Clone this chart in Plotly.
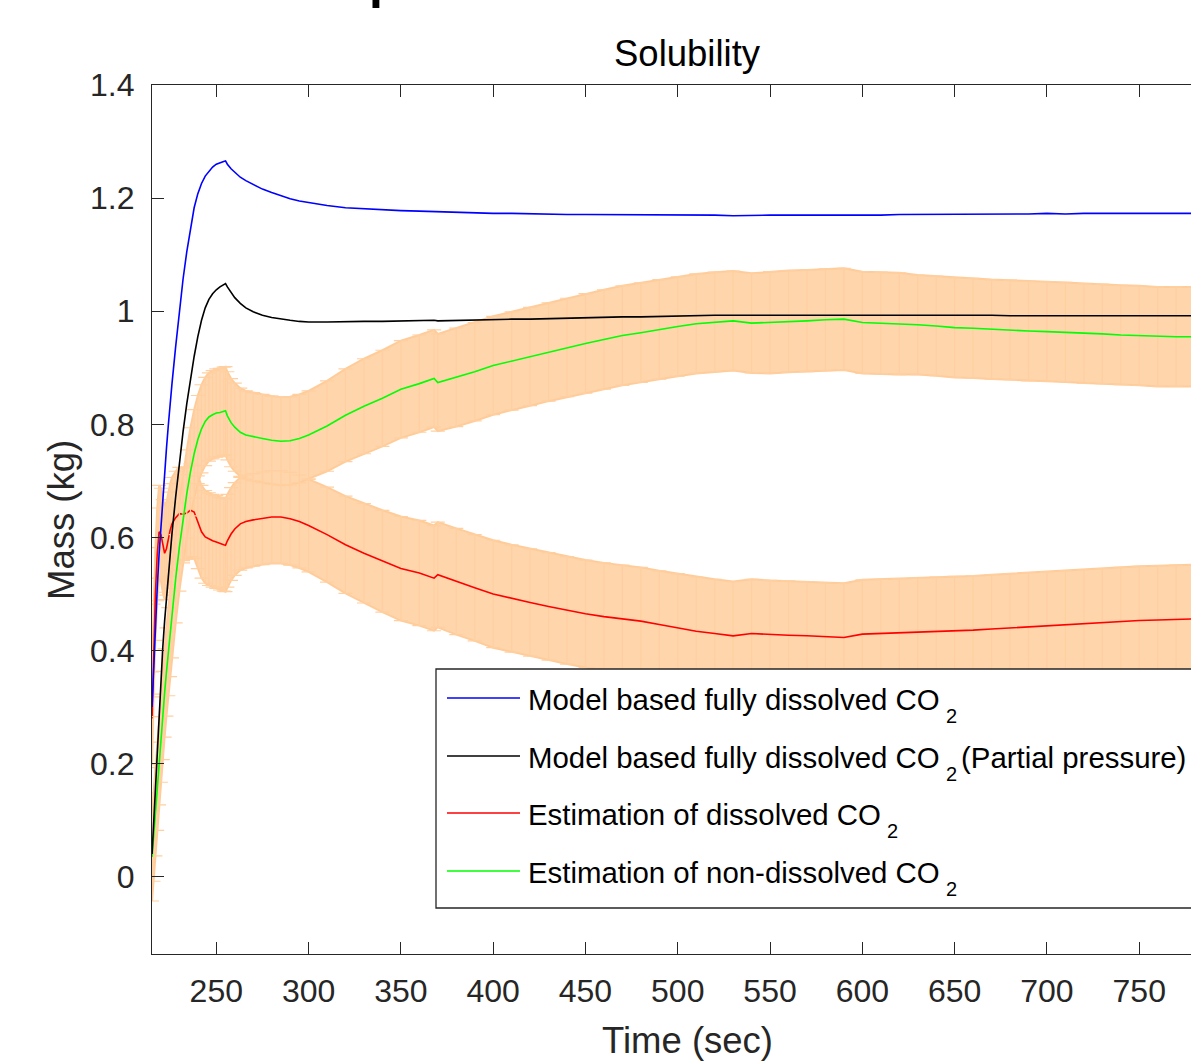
import plotly.graph_objects as go

# ---------------- data ----------------
time_s = [215.2, 216, 217, 218, 219, 220, 221, 222, 223, 224, 225, 226, 228, 230, 232, 234,
          236, 238, 240, 242, 244, 246, 248, 250, 252, 254, 255, 256, 258, 260, 263, 266,
          270, 275, 280, 285, 290, 295, 300, 310, 320, 330, 340, 350, 360, 368, 370,
          380, 390, 400, 410, 420, 430, 440, 450, 460, 470, 480, 490, 500, 510, 520, 530,
          540, 550, 560, 570, 580, 590, 600, 610, 620, 630, 640, 650, 660, 670, 680, 690,
          700, 710, 720, 730, 740, 750, 760, 770, 780]

model_full = [0.30, 0.37, 0.445, 0.51, 0.57, 0.62, 0.665, 0.712, 0.757, 0.798, 0.837, 0.872, 0.938, 0.998, 1.057, 1.105,
              1.148, 1.183, 1.208, 1.226, 1.239, 1.248, 1.255, 1.26, 1.263, 1.265, 1.266, 1.26, 1.252, 1.246, 1.237, 1.231,
              1.224, 1.216, 1.21, 1.204, 1.199, 1.195, 1.192, 1.187, 1.183, 1.181, 1.179, 1.178, 1.177, 1.176, 1.176,
              1.175, 1.174, 1.173, 1.173, 1.172, 1.172, 1.171, 1.171, 1.171, 1.171, 1.170, 1.170, 1.170, 1.170, 1.170, 1.169,
              1.170, 1.170, 1.170, 1.170, 1.170, 1.169, 1.170, 1.170, 1.171, 1.171, 1.171, 1.171, 1.172, 1.172, 1.172, 1.172,
              1.173, 1.172, 1.173, 1.173, 1.173, 1.173, 1.173, 1.173, 1.173]

model_partial = [0.04, 0.09, 0.16, 0.24, 0.30, 0.355, 0.405, 0.452, 0.495, 0.535, 0.572, 0.607, 0.672, 0.732, 0.787, 0.836,
                 0.881, 0.92, 0.955, 0.984, 1.006, 1.021, 1.031, 1.038, 1.043, 1.047, 1.049, 1.043, 1.033, 1.024, 1.014, 1.006,
                 0.999, 0.993, 0.989, 0.986, 0.984, 0.982, 0.981, 0.981, 0.982, 0.982, 0.982, 0.983, 0.983, 0.984, 0.983,
                 0.984, 0.985, 0.985, 0.986, 0.986, 0.987, 0.988, 0.988, 0.989, 0.99, 0.99, 0.991, 0.992, 0.992, 0.993, 0.993,
                 0.993, 0.994, 0.994, 0.994, 0.994, 0.994, 0.994, 0.994, 0.993, 0.993, 0.993, 0.993, 0.993, 0.993, 0.992, 0.992,
                 0.992, 0.992, 0.992, 0.992, 0.992, 0.992, 0.992, 0.992, 0.992]

est_dissolved = [0.28, 0.40, 0.50, 0.57, 0.61, 0.605, 0.585, 0.572, 0.58, 0.598, 0.613, 0.624, 0.635, 0.642, 0.641, 0.643,
                 0.648, 0.645, 0.627, 0.61, 0.601, 0.597, 0.594, 0.592, 0.589, 0.587, 0.586, 0.594, 0.606, 0.615, 0.624, 0.628,
                 0.631, 0.634, 0.636, 0.636, 0.633, 0.628, 0.621, 0.605, 0.587, 0.572, 0.558, 0.545, 0.537, 0.528, 0.534,
                 0.522, 0.511, 0.5, 0.492, 0.485, 0.478, 0.471, 0.465, 0.46, 0.456, 0.452, 0.446, 0.44, 0.434, 0.43, 0.426,
                 0.43, 0.428, 0.427, 0.426, 0.424, 0.423, 0.429, 0.43, 0.431, 0.432, 0.434, 0.435, 0.436, 0.438, 0.44, 0.442,
                 0.443, 0.445, 0.447, 0.449, 0.451, 0.453, 0.454, 0.455, 0.456]

est_dissolved_err = [0.082, 0.082, 0.082, 0.082, 0.082, 0.082, 0.082, 0.082, 0.082, 0.082, 0.082, 0.082, 0.082, 0.082, 0.082, 0.082,
                     0.082, 0.082, 0.082, 0.082, 0.082, 0.082, 0.082, 0.082, 0.082, 0.082, 0.082, 0.082, 0.082, 0.082, 0.082, 0.082,
                     0.082, 0.082, 0.082, 0.082, 0.082, 0.082, 0.082, 0.084, 0.086, 0.088, 0.09, 0.092, 0.093, 0.093, 0.093,
                     0.094, 0.094, 0.095, 0.095, 0.095, 0.095, 0.095, 0.095, 0.095, 0.095, 0.095, 0.095, 0.096, 0.096, 0.096, 0.096,
                     0.096, 0.096, 0.096, 0.096, 0.096, 0.096, 0.096, 0.096, 0.096, 0.096, 0.096, 0.096, 0.096, 0.096, 0.096, 0.096,
                     0.096, 0.096, 0.096, 0.096, 0.096, 0.096, 0.096, 0.096, 0.096]

est_nondissolved = [0.035, 0.07, 0.115, 0.16, 0.205, 0.245, 0.285, 0.325, 0.362, 0.398, 0.432, 0.465, 0.527, 0.583, 0.633, 0.677,
                    0.716, 0.748, 0.773, 0.792, 0.805, 0.813, 0.817, 0.82, 0.821, 0.823, 0.824, 0.815, 0.803, 0.795, 0.786, 0.781,
                    0.778, 0.775, 0.772, 0.77, 0.771, 0.775, 0.781, 0.797, 0.816, 0.832, 0.846, 0.862, 0.872, 0.881, 0.874,
                    0.883, 0.893, 0.904, 0.912, 0.92, 0.928, 0.936, 0.943, 0.95, 0.957, 0.962, 0.968, 0.973, 0.978, 0.981, 0.983,
                    0.979, 0.98, 0.982, 0.983, 0.985, 0.986, 0.98, 0.979, 0.978, 0.976, 0.974, 0.971, 0.97, 0.968, 0.967, 0.965,
                    0.964, 0.963, 0.961, 0.96, 0.958, 0.957, 0.955, 0.955, 0.955]

est_nondissolved_err = [0.078, 0.078, 0.078, 0.078, 0.078, 0.078, 0.078, 0.078, 0.078, 0.078, 0.078, 0.078, 0.078, 0.078, 0.078, 0.078,
                        0.078, 0.078, 0.078, 0.078, 0.078, 0.078, 0.078, 0.078, 0.078, 0.078, 0.078, 0.078, 0.078, 0.078, 0.078, 0.078,
                        0.078, 0.078, 0.078, 0.078, 0.078, 0.078, 0.078, 0.08, 0.082, 0.084, 0.085, 0.086, 0.086, 0.086, 0.086,
                        0.087, 0.087, 0.087, 0.087, 0.087, 0.087, 0.087, 0.088, 0.088, 0.088, 0.088, 0.088, 0.088, 0.088, 0.088, 0.088,
                        0.088, 0.09, 0.09, 0.09, 0.09, 0.09, 0.09, 0.09, 0.09, 0.088, 0.088, 0.088, 0.088, 0.088, 0.088, 0.088,
                        0.088, 0.088, 0.088, 0.088, 0.088, 0.088, 0.088, 0.088, 0.088]

legend_main = ["Model based fully dissolved CO",
               "Model based fully dissolved CO",
               "Estimation of dissolved CO",
               "Estimation of non-dissolved CO"]
legend_sub = ["2", "2", "2", "2"]
legend_tail = ["", "(Partial pressure)", "", ""]
line_colors = ["#0000FF", "#000000", "#FF0000", "#00FF00"]

x_tick_vals = [250, 300, 350, 400, 450, 500, 550, 600, 650, 700, 750]
y_tick_vals = [0, 0.2, 0.4, 0.6, 0.8, 1.0, 1.2, 1.4]
y_tick_text = ["0", "0.2", "0.4", "0.6", "0.8", "1", "1.2", "1.4"]

title_text = "Solubility"
x_label = "Time (sec)"
y_label = "Mass (kg)"
cut_title_fragment = "l"

# ---------------- figure ----------------
FONT = "Liberation Sans, Arial, Helvetica, sans-serif"
AXC = "#262626"
ERR_EDGE = "rgb(255,204,153)"
ERR_BAR = "rgb(255,207,160)"
ERR_FILL = "rgb(255,213,172)"
LEG_SIZE = 29.4

W, H = 1191, 1061
L, R, T, B = 152, 0, 85, 107
PW, PH = W - L - R, H - T - B


def px_x(px):
    return (px - L) / PW


def px_y(py):
    return (H - B - py) / PH


fig = go.Figure()

# error bands (value +/- error)
for vals, errs in [(est_dissolved, est_dissolved_err), (est_nondissolved, est_nondissolved_err)]:
    upper = [v + e for v, e in zip(vals, errs)]
    lower = [v - e for v, e in zip(vals, errs)]
    fig.add_trace(go.Scatter(
        x=time_s + time_s[::-1], y=upper + lower[::-1],
        mode="lines", fill="toself", fillcolor=ERR_FILL,
        line=dict(color=ERR_EDGE, width=2), hoverinfo="skip", showlegend=False))

# estimation series with error bars
for vals, errs, col, name in [(est_dissolved, est_dissolved_err, line_colors[2], legend_main[2]),
                              (est_nondissolved, est_nondissolved_err, line_colors[3], legend_main[3])]:
    fig.add_trace(go.Scatter(
        x=time_s, y=vals, mode="lines", name=name + legend_sub[0],
        line=dict(color=col, width=1.6),
        error_y=dict(type="data", array=errs, symmetric=True, color=ERR_BAR,
                     thickness=1.2, width=7),
        showlegend=False))

# model lines
for vals, col, name in [(model_full, line_colors[0], legend_main[0]),
                        (model_partial, line_colors[1], legend_main[1])]:
    fig.add_trace(go.Scatter(x=time_s, y=vals, mode="lines", name=name + legend_sub[0],
                             line=dict(color=col, width=1.6), showlegend=False))

shapes = []
annotations = []

# legend box (its right side runs past the picture edge, as in the reference)
shapes.append(dict(type="rect", xref="paper", yref="paper",
                   x0=px_x(436), x1=1.05, y0=px_y(908), y1=px_y(669),
                   fillcolor="white", line=dict(color=AXC, width=1.3), layer="above"))
row_y = [698, 756, 813, 871]
sub_x = [944, 944, 885, 944]
for i, (main, sub, tail, col, ry) in enumerate(zip(legend_main, legend_sub, legend_tail, line_colors, row_y)):
    shapes.append(dict(type="line", xref="paper", yref="paper",
                       x0=px_x(447), x1=px_x(520), y0=px_y(ry), y1=px_y(ry),
                       line=dict(color=col, width=1.6), layer="above"))
    annotations.append(dict(text=main, xref="paper", yref="paper",
                            x=px_x(526), y=px_y(ry + 1), xanchor="left", yanchor="middle",
                            showarrow=False, font=dict(family=FONT, size=LEG_SIZE, color="black")))
    annotations.append(dict(text=sub, xref="paper", yref="paper",
                            x=px_x(sub_x[i]), y=px_y(ry + 18), xanchor="left", yanchor="middle",
                            showarrow=False, font=dict(family=FONT, size=20, color="black")))
    if tail:
        annotations.append(dict(text=tail, xref="paper", yref="paper",
                                x=px_x(959), y=px_y(ry + 1), xanchor="left", yanchor="middle",
                                showarrow=False, font=dict(family=FONT, size=LEG_SIZE, color="black")))

# title and axis labels
annotations.append(dict(text=title_text, xref="paper", yref="paper",
                        x=px_x(687), y=px_y(54), xanchor="center", yanchor="middle",
                        showarrow=False, font=dict(family=FONT, size=36.5, color="black")))
annotations.append(dict(text=x_label, xref="paper", yref="paper",
                        x=px_x(687), y=px_y(1040), xanchor="center", yanchor="middle",
                        showarrow=False, font=dict(family=FONT, size=36.5, color=AXC)))
annotations.append(dict(text=y_label, xref="paper", yref="paper",
                        x=px_x(61), y=px_y(520), xanchor="center", yanchor="middle",
                        textangle=-90, showarrow=False, font=dict(family=FONT, size=36.5, color=AXC)))
# bottom of a larger (cut-off) heading above the axes
annotations.append(dict(text="<b>" + cut_title_fragment + "</b>", xref="paper", yref="paper",
                        x=px_x(376), y=px_y(-9), xanchor="center", yanchor="middle",
                        showarrow=False, font=dict(family=FONT, size=50, color="black")))

fig.update_layout(
    width=W, height=H,
    margin=dict(l=L, r=R, t=T, b=B, pad=0),
    paper_bgcolor="white", plot_bgcolor="white",
    font=dict(family=FONT, size=32, color=AXC),
    shapes=shapes, annotations=annotations,
    showlegend=False,
)
fig.update_xaxes(range=[215.17, 778.05], tickvals=x_tick_vals,
                 ticks="inside", ticklen=12, tickwidth=1.3, tickcolor=AXC,
                 showline=True, linecolor=AXC, linewidth=1.3, mirror="ticks",
                 showgrid=False, zeroline=False,
                 tickfont=dict(family=FONT, size=32, color=AXC), ticklabelstandoff=8)
fig.update_yaxes(range=[-0.1367, 1.4001], tickvals=y_tick_vals, ticktext=y_tick_text,
                 ticks="inside", ticklen=12, tickwidth=1.3, tickcolor=AXC,
                 showline=True, linecolor=AXC, linewidth=1.3, mirror=False,
                 showgrid=False, zeroline=False,
                 tickfont=dict(family=FONT, size=32, color=AXC), ticklabelstandoff=10)

fig.write_html("out.html", config={"displayModeBar": False},
               post_script="document.body.style.margin='0';document.body.style.overflow='hidden';")
